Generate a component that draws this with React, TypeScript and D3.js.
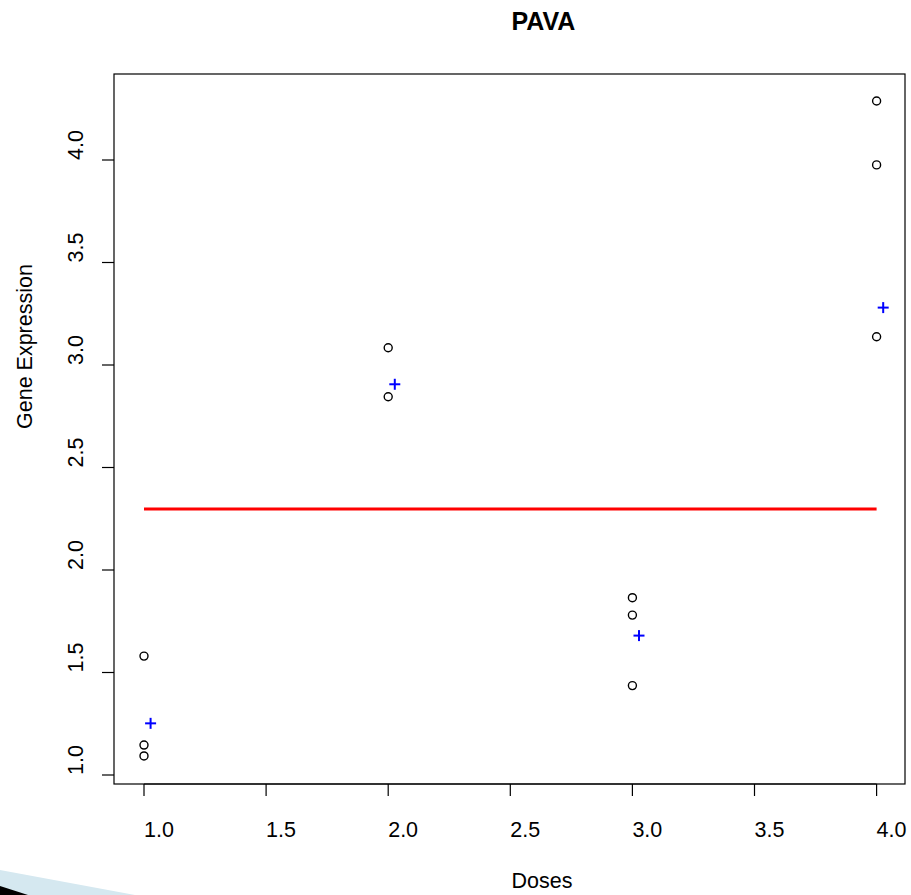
import * as d3 from 'd3';

// observed expression per dose
const doses = [1, 1, 1, 2, 2, 3, 3, 3, 4, 4, 4];
const expression = [1.58, 1.146, 1.093, 3.084, 2.845, 1.865, 1.78, 1.436, 4.288, 3.976, 3.138];

// blue "+" markers (drawn slightly right of each dose)
const markDoses = [1, 2, 3, 4];
const markValues = [1.252, 2.906, 1.68, 3.28];
const markShift = 0.027;

// red fitted level
const fitDoses = [1, 4];
const fitLevel = 2.298;

const xTicks = [1, 1.5, 2, 2.5, 3, 3.5, 4];
const yTicks = [1, 1.5, 2, 2.5, 3, 3.5, 4];

const W = 911, H = 895;
const box = { left: 114, right: 905, top: 74, bottom: 784 };
const font = "'Liberation Sans', Arial, sans-serif";
const fs = 21.5;

export default function App() {
  const x = d3.scaleLinear().domain([1, 4]).range([144, 876.6]);
  const y = d3.scaleLinear().domain([1, 4]).range([775, 160]);
  const cx = (box.left + box.right) / 2;
  const cy = (box.top + box.bottom) / 2;
  const fmt = d3.format('.1f');
  const fitLine = d3.line<number>().x(d => x(d)).y(() => y(fitLevel));

  return (
    <svg width={W} height={H} style={{ position: 'absolute', left: 0, top: 0, background: '#fff' }}
      fontFamily={font}>
      <rect x={box.left} y={box.top} width={box.right - box.left} height={box.bottom - box.top}
        fill="none" stroke="#000" strokeWidth={1.2} />
      {/* x axis */}
      <line x1={x(1)} x2={x(4)} y1={box.bottom} y2={box.bottom} stroke="#000" strokeWidth={1.2} />
      {xTicks.map(t => (
        <g key={'x' + t}>
          <line x1={x(t)} x2={x(t)} y1={box.bottom} y2={box.bottom + 12} stroke="#000" strokeWidth={1.2} />
          <text x={x(t)} y={837} fontSize={fs}>{fmt(t)}</text>
        </g>
      ))}
      {/* y axis */}
      {yTicks.map(t => (
        <g key={'y' + t}>
          <line x1={box.left - 12} x2={box.left} y1={y(t)} y2={y(t)} stroke="#000" strokeWidth={1.2} />
          <text transform={`translate(83,${y(t)}) rotate(-90)`} fontSize={fs}>{fmt(t)}</text>
        </g>
      ))}
      <text x={cx + 2} y={29.5} fontSize={25} fontWeight="bold">PAVA</text>
      <text x={cx + 2} y={888} fontSize={fs}>Doses</text>
      <text transform={`translate(32,${cy}) rotate(-90)`} fontSize={fs}>Gene Expression</text>

      <path d={fitLine(fitDoses) || ''} stroke="#ff0000" strokeWidth={3} fill="none" />

      {doses.map((d, i) => (
        <circle key={'c' + i} cx={x(d)} cy={y(expression[i])} r={4} fill="none" stroke="#000" strokeWidth={1.4} />
      ))}
      {markDoses.map((d, i) => {
        const px = x(d + markShift), py = y(markValues[i]);
        return (
          <g key={'p' + i} stroke="#0000ff" strokeWidth={2}>
            <line x1={px - 5.5} x2={px + 5.5} y1={py} y2={py} />
            <line x1={px} x2={px} y1={py - 5.5} y2={py + 5.5} />
          </g>
        );
      })}

      {/* slide decoration in the lower-left corner */}
      <polygon points="0,870 135,895 0,895" fill="#d5e8f0" />
      <polygon points="0,886 28,895 0,895" fill="#000" />
    </svg>
  );
}
